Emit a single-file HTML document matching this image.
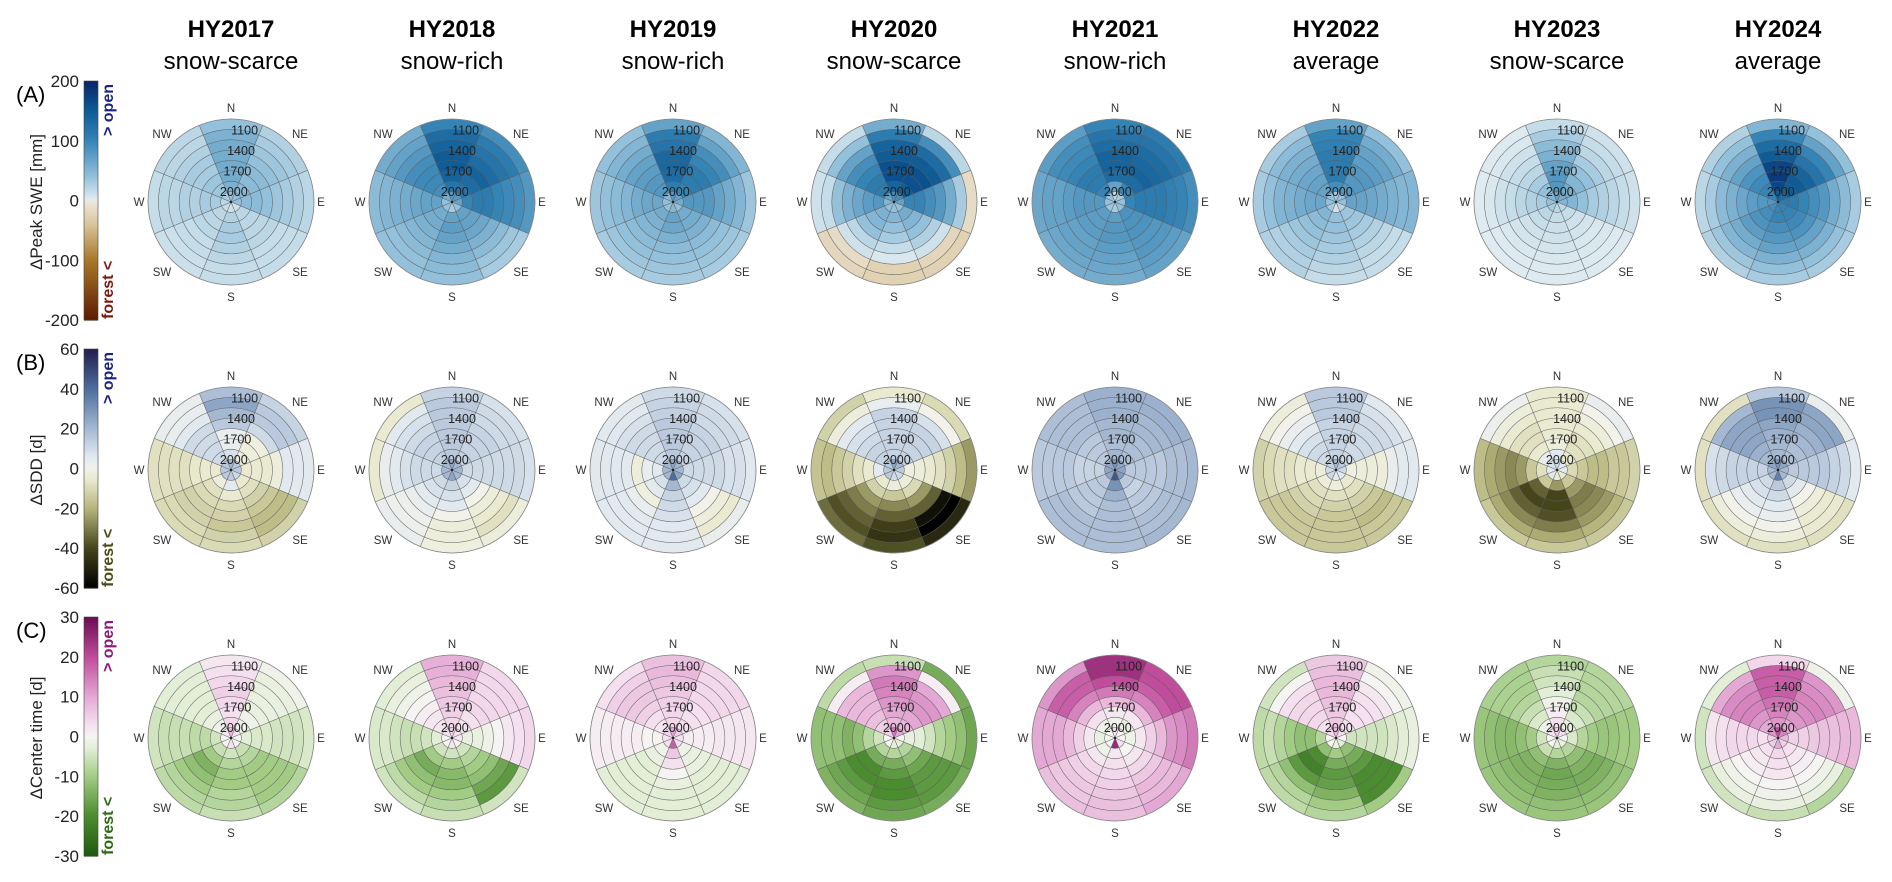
<!DOCTYPE html>
<html><head><meta charset="utf-8">
<style>
html,body{margin:0;padding:0;background:#fff;}
svg{display:block;font-family:"Liberation Sans",Arial,sans-serif;}
</style></head>
<body>
<svg id="chart" width="1892" height="882" viewBox="0 0 1892 882" xmlns="http://www.w3.org/2000/svg"></svg>
<script>
const years = ["HY2017","HY2018","HY2019","HY2020","HY2021","HY2022","HY2023","HY2024"];
const yearTypes = ["snow-scarce","snow-rich","snow-rich","snow-scarce","snow-rich","average","snow-scarce","average"];
const sectorNames = ["N","NE","E","SE","S","SW","W","NW"];
const ringLabels = ["2000","1700","1400","1100"];
const sweTicks = [200,100,0,-100,-200];
const sddTicks = [60,40,20,0,-20,-40,-60];
const ctTicks = [30,20,10,0,-10,-20,-30];

// values: sectors N,NE,E,SE,S,SW,W,NW ; rings inner -> outer
const swe2017 = [[40,55,60,60,60,60,55,40],[40,45,45,45,40,35,30,25],[40,45,45,40,35,30,25,20],[10,20,20,20,20,15,15,15],[10,25,30,30,25,20,15,15],[15,20,20,20,15,15,12,12],[20,30,30,25,25,20,20,15],[30,35,35,30,30,25,20,20]];
const swe2018 = [[80,120,140,150,150,140,130,100],[80,120,130,140,130,120,110,90],[70,100,110,110,100,95,90,80],[40,70,70,65,55,45,35,30],[30,70,75,70,60,50,45,40],[40,60,60,55,50,45,40,40],[40,70,70,65,60,55,50,45],[60,90,95,95,90,80,70,60]];
const swe2019 = [[80,110,130,135,135,120,110,70],[70,100,110,110,100,90,70,50],[60,80,80,80,70,60,50,35],[40,60,60,55,45,40,35,30],[50,70,65,55,45,40,35,30],[40,60,55,50,45,40,35,30],[40,65,65,60,50,45,40,35],[50,80,80,75,70,60,50,40]];
const swe2020 = [[90,140,160,160,150,140,110,60],[90,150,160,160,150,130,90,20],[70,100,100,90,80,60,30,-15],[40,60,50,40,25,10,-20,-25],[40,50,40,30,15,5,-25,-25],[40,55,50,40,20,10,-15,-20],[50,80,75,65,55,40,15,10],[70,110,110,100,90,70,40,15]];
const swe2021 = [[20,70,130,140,140,130,120,100],[30,100,130,140,135,130,120,110],[40,100,110,110,110,105,100,90],[40,85,85,85,80,80,75,70],[30,75,80,80,75,70,65,60],[35,75,75,75,70,70,65,60],[40,80,80,80,75,70,70,65],[40,100,110,110,100,95,90,75]];
const swe2022 = [[30,90,110,110,110,105,100,70],[40,80,80,80,75,70,60,40],[40,70,70,65,60,55,50,50],[20,35,35,30,25,20,15,15],[10,40,40,35,30,25,20,15],[30,50,45,40,35,30,25,25],[40,65,65,60,55,50,40,30],[40,70,70,65,60,55,45,30]];
const swe2023 = [[70,80,80,70,55,45,30,15],[60,60,50,40,30,20,15,10],[50,50,40,30,25,20,15,10],[20,15,10,8,5,5,3,3],[20,15,12,10,8,5,3,3],[30,20,15,10,8,5,3,2],[40,30,25,20,15,10,5,2],[50,40,30,20,15,10,5,3]];
const swe2024 = [[150,170,180,170,150,130,100,50],[130,150,150,140,120,100,70,40],[110,110,100,90,80,60,45,30],[100,100,95,85,70,55,40,30],[100,100,90,80,70,55,40,30],[90,90,85,75,60,50,35,25],[80,80,75,65,55,45,30,20],[100,100,95,85,70,55,40,25]];

const sdd2017 = [[20,8,3,3,15,20,25,18],[15,-3,-3,-2,10,15,15,12],[15,-5,-5,-5,-3,5,5,5],[10,-5,-8,-12,-15,-18,-18,-12],[15,5,-5,-10,-12,-15,-12,-10],[15,-3,-8,-10,-12,-12,-10,-10],[15,-5,-5,-6,-8,-8,-8,-8],[15,10,10,10,10,5,3,3]];
const sdd2018 = [[25,15,15,15,15,15,15,12],[20,12,12,12,12,10,10,8],[20,10,10,10,10,10,10,8],[20,8,5,0,-3,-5,-8,-3],[25,12,8,5,0,-3,-3,-2],[20,10,8,5,3,2,2,3],[20,10,10,10,8,5,3,-5],[20,12,12,12,10,8,5,-5]];
const sdd2019 = [[25,15,15,15,15,13,12,10],[20,12,12,12,12,10,10,8],[20,10,10,10,10,8,8,6],[25,10,8,5,0,-3,-5,3],[40,20,12,10,8,6,5,5],[20,8,5,-2,3,5,5,5],[20,5,3,-3,5,6,6,6],[20,10,10,10,10,8,6,5]];
const sdd2020 = [[25,12,12,12,12,12,3,-5],[20,12,12,12,12,8,0,-10],[15,-2,-3,-5,-8,-12,-18,-25],[10,-3,-10,-25,-35,-55,-60,-48],[10,-3,-15,-28,-35,-42,-45,-38],[15,-5,-12,-25,-30,-35,-38,-33],[15,5,-5,-8,-12,-15,-18,-16],[15,12,12,10,8,5,-3,-12]];
const sdd2021 = [[30,20,18,20,20,22,22,22],[25,18,18,18,20,20,22,22],[25,15,15,15,15,18,18,20],[28,15,12,15,15,18,18,20],[45,30,22,18,18,18,18,18],[25,15,15,15,15,18,18,18],[25,12,12,12,15,15,15,15],[25,15,15,15,18,18,18,18]];
const sdd2022 = [[20,12,12,12,12,15,15,15],[15,10,10,10,10,10,8,5],[10,-2,-3,-3,-3,3,5,5],[5,-5,-8,-12,-15,-18,-15,-15],[5,-3,-8,-12,-15,-15,-15,-15],[10,-3,-8,-10,-12,-15,-15,-15],[10,-3,-5,-5,-8,-8,-10,-12],[12,10,10,8,5,3,0,-3]];
const sdd2023 = [[10,5,-3,-5,-5,-5,-5,-5],[5,-5,-8,-8,-5,-3,0,3],[5,-10,-15,-18,-18,-15,-15,-12],[-5,-15,-25,-30,-28,-25,-20,-15],[-5,-25,-40,-40,-38,-30,-22,-15],[5,-15,-35,-40,-35,-28,-22,-15],[5,-8,-15,-25,-28,-25,-22,-18],[8,3,-5,-8,-8,-5,-3,2]];
const sdd2024 = [[30,20,20,22,25,30,30,15],[25,18,18,20,22,25,25,3],[20,15,15,15,15,12,10,5],[20,10,5,0,-3,-5,-5,-8],[35,15,10,5,3,0,-3,-8],[20,10,8,5,3,0,-3,-8],[20,12,12,12,12,10,8,-8],[25,20,22,25,25,25,20,-8]];

const ct2017 = [[8,4,3,4,5,4,3,2],[2,-1,-1,-2,-2,-2,-2,-1],[0,-3,-4,-4,-5,-5,-5,-4],[0,-6,-8,-10,-10,-10,-10,-8],[3,-5,-8,-10,-10,-8,-8,-6],[0,-6,-10,-14,-12,-10,-8,-7],[0,-5,-7,-7,-6,-6,-6,-5],[2,-1,-2,-3,-3,-3,-3,-3]];
const ct2018 = [[5,4,5,6,7,8,9,9],[3,2,3,4,4,4,4,4],[2,-2,-2,-1,0,2,3,4],[0,-5,-8,-10,-12,-16,-18,-5],[2,-5,-10,-13,-13,-10,-8,-6],[0,-5,-10,-15,-12,-10,-7,-5],[0,-3,-5,-6,-6,-5,-4,-4],[3,2,2,1,0,-1,-2,-3]];
const ct2019 = [[10,4,4,5,6,7,8,7],[5,3,3,3,4,4,4,4],[3,1,1,1,2,2,2,2],[3,-1,-2,-2,-3,-3,-3,-3],[18,6,3,0,-2,-3,-3,-3],[3,-1,-2,-3,-3,-3,-3,-3],[3,0,0,1,1,1,1,1],[5,2,3,5,6,6,5,3]];
const ct2020 = [[15,8,10,12,14,15,12,-6],[10,8,10,12,12,10,1,-15],[0,-2,-3,-5,-8,-10,-12,-16],[-3,-8,-12,-16,-18,-18,-18,-15],[-3,-8,-15,-18,-20,-20,-18,-16],[0,-8,-15,-20,-20,-18,-16,-14],[0,-5,-8,-12,-14,-12,-12,-12],[5,5,7,8,8,8,1,-7]];
const ct2021 = [[3,-1,2,8,15,20,24,24],[0,-2,2,8,14,18,20,20],[0,-1,2,5,8,12,13,15],[3,0,2,4,6,8,8,10],[25,2,3,4,5,6,7,7],[0,-1,2,4,5,6,6,7],[0,-2,2,5,8,10,10,10],[0,-1,3,8,14,18,18,12]];
const ct2022 = [[8,6,6,7,8,8,7,6],[3,3,3,3,3,2,0,-1],[0,-5,-5,-5,-5,-4,-3,-2],[-3,-12,-15,-18,-20,-20,-20,-10],[-2,-10,-15,-18,-17,-14,-10,-8],[0,-12,-20,-22,-18,-12,-8,-7],[0,-8,-12,-12,-10,-8,-6,-7],[4,3,4,4,4,3,0,-5]];
const ct2023 = [[5,3,1,-1,-3,-5,-6,-8],[3,-2,-4,-6,-8,-8,-8,-8],[0,-4,-8,-10,-11,-11,-10,-10],[-2,-8,-12,-14,-15,-14,-12,-11],[-3,-8,-14,-16,-15,-14,-12,-11],[0,-6,-12,-14,-14,-13,-12,-11],[0,-5,-10,-12,-13,-13,-12,-11],[3,-1,-4,-6,-8,-9,-9,-9]];
const ct2024 = [[20,12,14,16,18,18,18,4],[14,10,12,13,14,13,12,-1],[8,5,5,6,7,7,8,8],[5,3,2,1,0,-1,-2,-8],[10,4,3,2,0,-1,-2,-6],[5,3,2,1,0,-1,-2,-5],[5,3,4,4,4,3,2,-5],[12,10,12,14,14,13,10,-3]];

const sweAll = [swe2017,swe2018,swe2019,swe2020,swe2021,swe2022,swe2023,swe2024];
const sddAll = [sdd2017,sdd2018,sdd2019,sdd2020,sdd2021,sdd2022,sdd2023,sdd2024];
const ctAll = [ct2017,ct2018,ct2019,ct2020,ct2021,ct2022,ct2023,ct2024];

const NS="http://www.w3.org/2000/svg";
const svg=document.getElementById('chart');
function mk(tag,attrs,parent){const e=document.createElementNS(NS,tag);for(const k in attrs)e.setAttribute(k,attrs[k]);(parent||svg).appendChild(e);return e;}
function hex(h){return [parseInt(h.slice(1,3),16),parseInt(h.slice(3,5),16),parseInt(h.slice(5,7),16)];}
function cmap(stops,t){t=Math.max(0,Math.min(1,t));for(let i=1;i<stops.length;i++){if(t<=stops[i][0]){const a=stops[i-1],b=stops[i];const f=(t-a[0])/(b[0]-a[0]||1);const ca=hex(a[1]),cb=hex(b[1]);return 'rgb('+ca.map((c,j)=>Math.round(c+(cb[j]-c)*f)).join(',')+')';}}return stops[stops.length-1][1];}
const maps=[
 {name:'swe',vmax:200,ticks:sweTicks,title:'\u0394Peak SWE [mm]',panel:'(A)',data:sweAll,open:'#1a237e',forest:'#7a1a10',
  stops:[[0,'#5e1c02'],[0.25,'#a8782a'],[0.4,'#d8c49c'],[0.5,'#efe8dc'],[0.501,'#e2edf2'],[0.6,'#93c0da'],[0.75,'#3584b6'],[0.88,'#0d5a96'],[1,'#08246a']]},
 {name:'sdd',vmax:60,ticks:sddTicks,title:'\u0394SDD [d]',panel:'(B)',data:sddAll,open:'#1a237e',forest:'#4a4a14',
  stops:[[0,'#000000'],[0.167,'#45451c'],[0.33,'#b4b47a'],[0.45,'#e8e8cc'],[0.5,'#f2f2ea'],[0.55,'#e0e8f0'],[0.667,'#a4b8d2'],[0.833,'#4c6e9e'],[1,'#231e4e']]},
 {name:'ct',vmax:30,ticks:ctTicks,title:'\u0394Center time [d]',panel:'(C)',data:ctAll,open:'#8e1a78',forest:'#2e6a14',
  stops:[[0,'#1f5a10'],[0.167,'#4c8c30'],[0.333,'#a2cc84'],[0.45,'#e2eed6'],[0.5,'#f6f4f2'],[0.55,'#f4e0ee'],[0.667,'#e4a8d4'],[0.833,'#c04c9c'],[1,'#6c0a52']]}
];
const colX=i=>231+221*i;
const rowY=r=>202+268*r;
const R=83, NR=8;
const rScale=k=>R*k/NR;

years.forEach((y,i)=>{
  const t=mk('text',{x:colX(i),y:37,'text-anchor':'middle','font-size':24,'font-weight':'bold',fill:'#000'});t.textContent=y;
  
  
  const s=mk('text',{x:colX(i),y:69,'text-anchor':'middle','font-size':24,fill:'#000'});s.textContent=yearTypes[i];
  
  
});

maps.forEach((m,ri)=>{
  const cy=rowY(ri);
  const top=cy-121,bot=cy+118,bx=84,bw=14;
  const g=mk('g',{});
  
  
  const N=120;
  for(let i=0;i<N;i++){
    const t=1-(i+0.5)/N;
    mk('rect',{x:bx,y:top+(bot-top)*i/N,width:bw,height:(bot-top)/N+0.6,fill:cmap(m.stops,t)},g);
  }
  mk('rect',{x:bx,y:top,width:bw,height:bot-top,fill:'none',stroke:'#444','stroke-width':0.6},g);
  m.ticks.forEach((tv,k)=>{
    const yy=top+(bot-top)*(m.vmax-tv)/(2*m.vmax);
    const tl=mk('text',{x:79,y:yy+6,'text-anchor':'end','font-size':17,fill:'#222'},g);tl.textContent=tv;
    
    
  });
  const p=mk('text',{x:16,y:top+21,'font-size':22,fill:'#000'});p.textContent=m.panel;
  
  
  const tt=mk('text',{x:0,y:0,'text-anchor':'middle','font-size':17,fill:'#222',transform:`translate(42,${cy}) rotate(-90)`});tt.textContent=m.title;
  
  
  const op=mk('text',{x:0,y:0,'text-anchor':'end','font-size':16,'font-weight':'bold',fill:m.open,transform:`translate(113,${top+3}) rotate(-90)`});op.textContent='> open';
  
  
  const fo=mk('text',{x:0,y:0,'text-anchor':'start','font-size':16,'font-weight':'bold',fill:m.forest,transform:`translate(113,${bot-1}) rotate(-90)`});fo.textContent='forest <';
  
  

  m.data.forEach((plot,ci)=>{
    const cx=colX(ci);
    const pg=mk('g',{});
    
    
    plot.forEach((rings,si)=>{
      const a0=(si*45-22.5)*Math.PI/180,a1=(si*45+22.5)*Math.PI/180;
      rings.forEach((v,k)=>{
        const r0=rScale(k),r1=rScale(k+1);
        const P=(r,a)=>[(cx+r*Math.sin(a)).toFixed(2),(cy-r*Math.cos(a)).toFixed(2)];
        const [x1,y1]=P(r1,a0),[x2,y2]=P(r1,a1),[x3,y3]=P(r0,a1),[x4,y4]=P(r0,a0);
        let d=`M${x1},${y1} A${r1},${r1} 0 0 1 ${x2},${y2} L${x3},${y3}`;
        d+= r0>0?` A${r0},${r0} 0 0 0 ${x4},${y4} Z`:' Z';
        const c=mk('path',{d:d,fill:cmap(m.stops,(v+m.vmax)/(2*m.vmax)),stroke:'#5a5a5a','stroke-width':0.55,'stroke-opacity':0.75},pg);
        
        
      });
    });
    mk('circle',{cx:cx,cy:cy,r:R,fill:'none',stroke:'#8a8a8a','stroke-width':0.8},pg);
    mk('circle',{cx:cx,cy:cy,r:1.2,fill:'#222'},pg);
    const dl=[[0,-94],[69,-68],[90,0],[69,70],[0,95],[-69,70],[-92,0],[-69,-68]];
    sectorNames.forEach((n,i)=>{
      const t=mk('text',{x:cx+dl[i][0],y:cy+dl[i][1]+4,'text-anchor':'middle','font-size':11.5,fill:'#333'},pg);t.textContent=n;
      
      
    });
    ringLabels.forEach((lb,j)=>{
      const r=rScale(1+2*j),a=10*Math.PI/180;
      const t=mk('text',{x:cx+r*Math.sin(a)+1,y:cy-r*Math.cos(a)+4,'text-anchor':'middle','font-size':12.5,fill:'#222'},pg);t.textContent=lb;
      
      
    });
  });
});
</script>
</body></html>
